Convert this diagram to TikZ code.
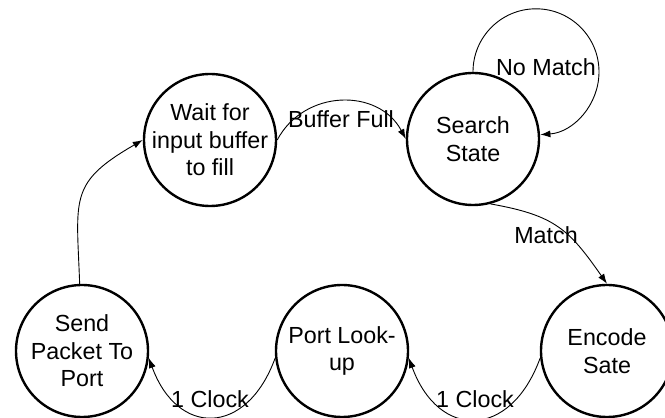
\documentclass[tikz,border=0pt]{standalone}
\usepackage{fontspec}
\setmainfont{Liberation Sans}
\usetikzlibrary{arrows.meta}

\begin{document}
\begin{tikzpicture}[x=1pt,y=1pt,font=\fontsize{23.3}{27.5}\selectfont,
	stat/.style={draw,circle,line width=2.4pt,minimum size=132pt,
		inner sep=-4pt,align=center},
	arr/.style={line width=0.9pt,-{Latex[length=10pt,width=7pt]}}]
	\useasboundingbox (0,0) rectangle (665,418);
	\node[stat] (0) at (210,278) {Wait for\\input buffer\\to fill};
	\node[stat] (1) at (473,279) {Search\\State};
	\node[stat] (2) at (607,67) {Encode\\Sate};
	\node[stat] (3) at (342,67) {Port Look-\\up};
	\node[stat] (4) at (82,67) {Send\\Packet To\\Port};
	\draw[arr] (0.east) to[out=62,in=118,looseness=1.15] (1.west);
	\draw[arr] (1.north) arc[start angle=180,end angle=-86,radius=63];
	\draw[arr] (1.-75) to[out=-10,in=125,looseness=1.2] (2.north);
	\draw[arr] (2.186) to[out=-110,in=-70,looseness=1.7] (3.-6);
	\draw[arr] (3.186) to[out=-110,in=-70,looseness=1.7] (4.-6);
	\draw[arr] (4.92) to[out=92,in=210,looseness=1.4] (0.west);
	\node (5) at (341,299) {Buffer Full};
	\node (6) at (546,351) {No Match};
	\node (7) at (546,183) {Match};
	\node (8) at (475,19) {1 Clock};
	\node (9) at (210,19) {1 Clock};
\end{tikzpicture}
\end{document}
